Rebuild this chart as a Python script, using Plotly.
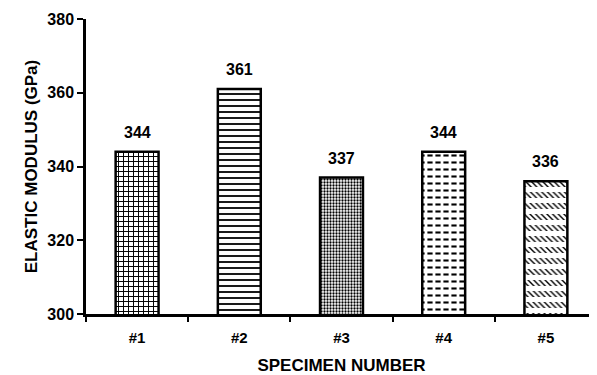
import plotly.graph_objects as go

specimens = ["#1", "#2", "#3", "#4", "#5"]
modulus = [344, 361, 337, 344, 336]
labels = ["344", "361", "337", "344", "336"]
y_ticks = [300, 320, 340, 360, 380]

patterns = ["+", "-", ".", "-", "\\"]
pattern_sizes = [5, 6, 3, 7, 4]
pattern_solid = [0.35, 0.3, 0.45, 0.3, 0.35]

breaker = ["", "", "", "|", "-"]
breaker_sizes = [8, 8, 8, 8, 11]
breaker_solid = [0.3, 0.3, 0.3, 0.35, 0.45]

FONT = "Liberation Sans, Arial, sans-serif"

fig = go.Figure()
fig.add_trace(go.Bar(
    x=specimens, y=modulus, width=0.42,
    marker=dict(color="white", line=dict(color="black", width=0),
                pattern=dict(shape=patterns, size=pattern_sizes, solidity=pattern_solid,
                             fgcolor="black", bgcolor="white", fillmode="replace")),
    hoverinfo="skip", showlegend=False,
))
fig.add_trace(go.Bar(
    x=specimens, y=modulus, width=0.42,
    marker=dict(color="rgba(0,0,0,0)", line=dict(color="black", width=2.5),
                pattern=dict(shape=breaker, size=breaker_sizes, solidity=breaker_solid,
                             fgcolor="white", bgcolor="rgba(0,0,0,0)", fillmode="replace")),
    hoverinfo="skip", showlegend=False,
))

for s, v, t in zip(specimens, modulus, labels):
    fig.add_annotation(x=s, y=v, text=t, showarrow=False, yanchor="bottom", yshift=9,
                       font=dict(family=FONT, size=16, color="black", weight="bold"))

fig.update_layout(
    width=589, height=367,
    margin=dict(l=78, r=0, t=11, b=61),
    paper_bgcolor="white", plot_bgcolor="white",
    barmode="overlay",
    font=dict(family=FONT, color="black"),
)
fig.update_xaxes(
    type="category", tickson="boundaries", ticks="outside", ticklen=5, tickwidth=2,
    tickcolor="black", showline=True, linecolor="black", linewidth=2.5, showgrid=False,
    automargin=False, ticklabelstandoff=8,
    tickfont=dict(family=FONT, size=15, weight="bold"),
    title=dict(text="SPECIMEN NUMBER", font=dict(family=FONT, size=17, weight="bold"), standoff=18),
    range=[-0.5, 4.5],
)
fig.update_yaxes(
    range=[300, 380], tickvals=y_ticks, ticks="outside", ticklen=6, tickwidth=2,
    tickcolor="black", showline=True, linecolor="black", linewidth=2.5, showgrid=False,
    zeroline=False, automargin=False,
    tickfont=dict(family=FONT, size=16, weight="bold"),
    title=dict(text="ELASTIC MODULUS (GPa)", font=dict(family=FONT, size=17, weight="bold"), standoff=6),
)

fig.write_html("out.html")
